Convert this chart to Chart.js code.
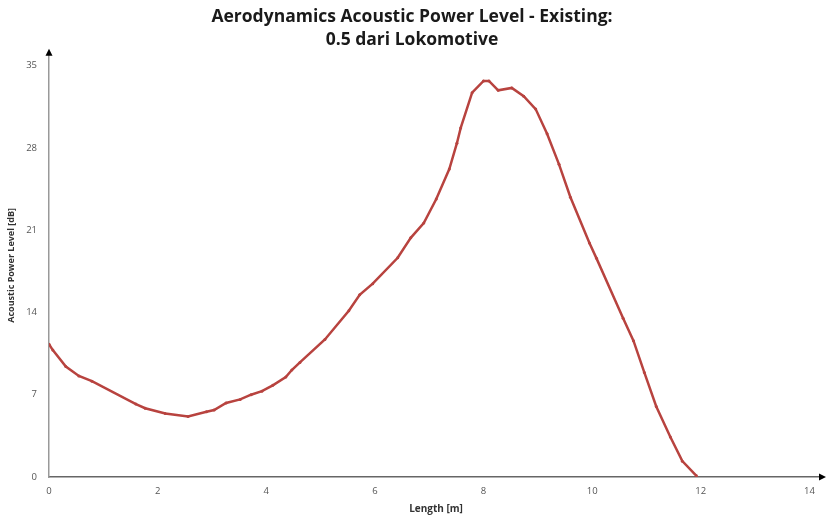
<!DOCTYPE html>
<html lang="en">
<head>
    <meta charset="UTF-8">
    <title>Aerodynamics Acoustic Power Level - Existing</title>
    <script src="https://cdn.jsdelivr.net/npm/chart.js"></script>
    <style>
        html, body { margin: 0; padding: 0; background: #fff; }
        #chart { display: block; }
    </style>
</head>
<body>
    <canvas id="chart" width="827" height="517"></canvas>

    <script>
        // Length [m] and Acoustic Power Level [dB]
        const lengths = [0, 0.07, 0.31, 0.55, 0.79, 1.6, 1.77, 2.14, 2.56, 2.9, 3.04, 3.26, 3.52, 3.72,
            3.92, 4.12, 4.36, 4.47, 4.62, 5.08, 5.52, 5.72, 5.96, 6.42, 6.66, 6.9, 7.13, 7.37, 7.51,
            7.58, 7.79, 8.0, 8.1, 8.27, 8.52, 8.74, 8.96, 9.17, 9.39, 9.6, 9.95, 10.08, 10.57, 10.76,
            10.96, 11.18, 11.44, 11.66, 11.92];
        const levels = [11.3, 10.8, 9.4, 8.6, 8.15, 6.2, 5.85, 5.4, 5.15, 5.55, 5.7, 6.3, 6.6, 7.0,
            7.3, 7.8, 8.5, 9.1, 9.75, 11.7, 14.15, 15.5, 16.45, 18.65, 20.35, 21.6, 23.65, 26.2, 28.4,
            29.7, 32.7, 33.7, 33.7, 32.9, 33.1, 32.4, 31.3, 29.2, 26.6, 23.8, 19.9, 18.6, 13.5, 11.6,
            8.9, 6.0, 3.4, 1.35, 0.1];
        const xTicks = [0, 2, 4, 6, 8, 10, 12, 14];
        const yTicks = [0, 7, 14, 21, 28, 35];

        const points = lengths.map((x, i) => ({ x: x, y: levels[i] }));
        const lineColor = '#b8433f';

        // little arrow heads at the end of both axes
        const axisArrows = {
            id: 'axisArrows',
            afterDraw(chart) {
                const { ctx, chartArea } = chart;
                ctx.save();
                ctx.fillStyle = '#000';
                ctx.beginPath();
                ctx.moveTo(chartArea.left, chartArea.top - 5);
                ctx.lineTo(chartArea.left - 3.5, chartArea.top + 2);
                ctx.lineTo(chartArea.left + 3.5, chartArea.top + 2);
                ctx.closePath();
                ctx.fill();
                ctx.beginPath();
                ctx.moveTo(chartArea.right + 3, chartArea.bottom);
                ctx.lineTo(chartArea.right - 4, chartArea.bottom - 3.5);
                ctx.lineTo(chartArea.right - 4, chartArea.bottom + 3.5);
                ctx.closePath();
                ctx.fill();
                ctx.restore();
            }
        };

        new Chart(document.getElementById('chart'), {
            type: 'scatter',
            data: {
                datasets: [{
                    label: 'Existing',
                    data: points,
                    showLine: true,
                    borderColor: lineColor,
                    backgroundColor: lineColor,
                    borderWidth: 2.5,
                    pointRadius: 1.5,
                    pointBorderWidth: 0,
                    tension: 0
                }]
            },
            options: {
                responsive: false,
                animation: false,
                layout: { padding: { left: 0, right: 3, top: 0, bottom: 0 } },
                plugins: {
                    legend: { display: false },
                    tooltip: { enabled: false },
                    title: {
                        display: true,
                        text: ['Aerodynamics Acoustic Power Level - Existing:', '0.5 dari Lokomotive'],
                        color: '#1a1a1a',
                        font: { family: 'Open Sans', size: 17.5, weight: 'bold', lineHeight: 1.31 },
                        padding: { top: 6, bottom: 2 }
                    }
                },
                scales: {
                    x: {
                        type: 'linear',
                        min: 0,
                        max: 14.25,
                        afterBuildTicks: s => { s.ticks = xTicks.map(v => ({ value: v })); },
                        afterFit: s => { s.height = 40; },
                        grid: { display: false, drawTicks: false },
                        border: { display: true, color: '#666', width: 1.5 },
                        ticks: {
                            padding: 9,
                            color: '#555',
                            font: { family: 'Open Sans', size: 9.5 }
                        },
                        title: {
                            display: true,
                            text: 'Length [m]',
                            color: '#333',
                            font: { family: 'Open Sans', size: 10, weight: 'bold' },
                            padding: { top: 0, bottom: 2 }
                        }
                    },
                    y: {
                        type: 'linear',
                        min: 0,
                        max: 36,
                        afterBuildTicks: s => { s.ticks = yTicks.map(v => ({ value: v })); },
                        afterFit: s => { s.width = 49; },
                        grid: { display: false, drawTicks: false },
                        border: { display: true, color: '#999', width: 1.5 },
                        ticks: {
                            padding: 12,
                            color: '#555',
                            font: { family: 'Open Sans', size: 9.5 }
                        },
                        title: {
                            display: true,
                            text: 'Acoustic Power Level [dB]',
                            color: '#333',
                            font: { family: 'Open Sans', size: 9, weight: 'bold' },
                            padding: { top: 6, bottom: 0 }
                        }
                    }
                }
            },
            plugins: [axisArrows]
        });
    </script>
</body>
</html>
